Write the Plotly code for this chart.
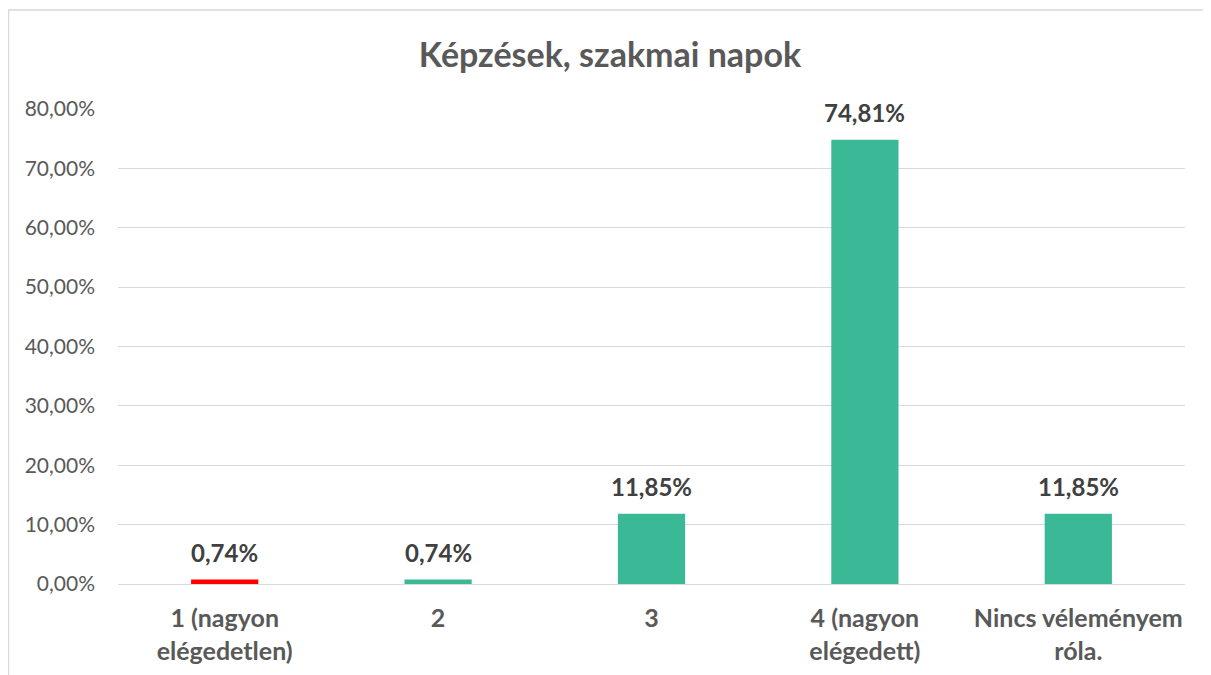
import plotly.graph_objects as go

categories = ["1 (nagyon<br>elégedetlen)", "2", "3", "4 (nagyon<br>elégedett)", "Nincs véleményem<br>róla."]
values = [0.0074, 0.0074, 0.1185, 0.7481, 0.1185]
bar_colors = ["#FF0000", "#3BB896", "#3BB896", "#3BB896", "#3BB896"]
y_ticks = [0, 0.1, 0.2, 0.3, 0.4, 0.5, 0.6, 0.7, 0.8]
title_text = "Képzések, szakmai napok"

W, H = 1211, 675
OFF = 8  # page body margin
ml, mr = 118 - OFF, W - (1185 - OFF)
mt, mb = 109 - OFF, H - (584 - OFF)
pw, ph = W - ml - mr, H - mt - mb

FONT = "Lato, 'Open Sans', sans-serif"

fig = go.Figure(go.Bar(
    x=categories,
    y=values,
    marker=dict(color=bar_colors, line=dict(width=0)),
    hoverinfo="x+y",
    cliponaxis=False,
))

for i, v in enumerate(values):
    fig.add_annotation(
        x=i, y=v, xref="x", yref="y",
        text=f"{v * 100:.2f}%".replace(".", ","),
        showarrow=False, yanchor="middle", yshift=27,
        font=dict(family=FONT, size=24, color="#404040", weight="bold"),
    )

fig.update_layout(
    width=W, height=H,
    margin=dict(l=ml, r=mr, t=mt, b=mb),
    paper_bgcolor="white", plot_bgcolor="white",
    separators=", ",
    bargap=0.685,
    showlegend=False,
    title=dict(text=title_text, x=(610 - OFF) / W, xanchor="center", y=1 - (55 - OFF) / H, yanchor="middle",
               font=dict(family=FONT, size=34, color="#595959", weight="bold")),
    xaxis=dict(
        type="category",
        showgrid=False, showline=True, linecolor="#D9D9D9", linewidth=1,
        ticks="", ticklabelstandoff=12,
        tickfont=dict(family=FONT, size=25, color="#595959", weight="bold"),
        automargin=False,
    ),
    yaxis=dict(
        range=[0, 0.8], tickvals=y_ticks, tickformat=".2%",
        showgrid=True, gridcolor="#D9D9D9", gridwidth=1, zeroline=False,
        showline=False, ticks="", ticklabelstandoff=22,
        tickfont=dict(family=FONT, size=21, color="#595959"),
        automargin=False,
    ),
    shapes=[dict(
        type="rect", xref="paper", yref="paper",
        x0=(0.5 - ml) / pw, x1=(W + 20 - ml) / pw,
        y0=-(mb + 20) / ph, y1=1 + (mt - 2) / ph,
        line=dict(color="#D9D9D9", width=1.5), fillcolor="rgba(0,0,0,0)", layer="below",
    )],
)

fig.write_html("out.html")
